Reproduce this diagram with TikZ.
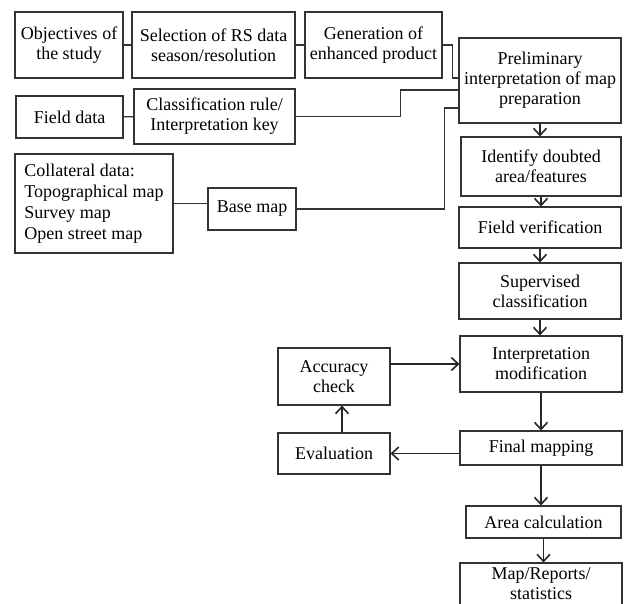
\documentclass[tikz,border=0pt]{standalone}
\usepackage{fontspec}
\setmainfont{Liberation Serif}
\usetikzlibrary{arrows.meta,calc}

\begin{document}
\begin{tikzpicture}[x=1pt,y=-1pt,>={Straight Barb[length=7pt,width=13pt]},
  box/.style={draw=black!80,line width=1.1pt,align=center,inner sep=0pt,
    font=\fontsize{18}{20}\selectfont},
  link/.style={draw=black!80,line width=1.3pt},
  arr/.style={->,draw=black!85,line width=1.6pt}]

\useasboundingbox (0,0) rectangle (624,603);

% inputs
\node[box,minimum width=108,minimum height=66] (obj) at (69,45) {Objectives of\\the study};
\node[box,minimum width=163,minimum height=66] (sel) at (213.5,45) {Selection of RS data\\season/resolution};
\node[box,minimum width=137,minimum height=66] (gen) at (373.5,45) {Generation of\\enhanced product};
\node[box,minimum width=107,minimum height=42] (fld) at (69.5,117) {Field data};
\node[box,minimum width=161,minimum height=55] (cls) at (214.5,116.5) {Classification rule/\\Interpretation key};
\node[box,minimum width=158,minimum height=99,align=left,font=\fontsize{18}{21}\selectfont] (col) at (94,203.5) {Collateral data:\\Topographical map\\Survey map\\Open street map};
\node[box,minimum width=88,minimum height=42] (bas) at (252,209) {Base map};

% main column
\node[box,minimum width=162,minimum height=85] (pre) at (540,80.5) {Preliminary\\interpretation of map\\preparation};
\node[box,minimum width=160,minimum height=59] (idf) at (541,166.5) {Identify doubted\\area/features};
\node[box,minimum width=162,minimum height=41] (ver) at (540,227.5) {Field verification};
\node[box,minimum width=162,minimum height=56] (sup) at (540,291) {Supervised\\classification};
\node[box,minimum width=162,minimum height=56] (mod) at (541,364) {Interpretation\\modification};
\node[box,minimum width=162,minimum height=34] (fin) at (541,448) {Final mapping};
\node[box,minimum width=155,minimum height=32] (are) at (543.5,522) {Area calculation};
\node[box,minimum width=162,minimum height=42] (rep) at (541,584) {Map/Reports/\\statistics};

% feedback loop
\node[box,minimum width=112,minimum height=57] (acc) at (334,376.5) {Accuracy\\check};
\node[box,minimum width=112,minimum height=41] (evl) at (334,453.5) {Evaluation};

\draw[link] (obj) -- (sel);
\draw[link] (sel) -- (gen);
\draw[link] (fld) -- (cls);
\draw[link] (col) -- (col -| bas.west);
\draw[link] (gen.east) -- ++(10,0) |- ($(pre.north west)!0.47!(pre.south west)$);
\draw[link] (cls.east) -- ++(105,0) |- ($(pre.north west)!0.61!(pre.south west)$);
\draw[link] (bas.east) -- ++(148,0) |- ($(pre.north west)!0.82!(pre.south west)$);

\draw[arr] (pre) -- (pre |- idf.north);
\draw[arr] (idf) -- (idf |- ver.north);
\draw[arr] (ver) -- (ver |- sup.north);
\draw[arr] (sup) -- (sup |- mod.north);
\draw[arr] (mod.south) -- (fin.north);
\draw[arr] (fin.south) -- (fin.south |- are.north);
\draw[arr] (are.south) -- (are.south |- rep.north);
\draw[arr] (fin.west |- evl) -- (evl.east);
\draw[arr] ([xshift=8pt]evl.north) -- ([xshift=8pt]acc.south);
\draw[arr] (acc.east |- mod.west) -- (mod.west);

\end{tikzpicture}
\end{document}
